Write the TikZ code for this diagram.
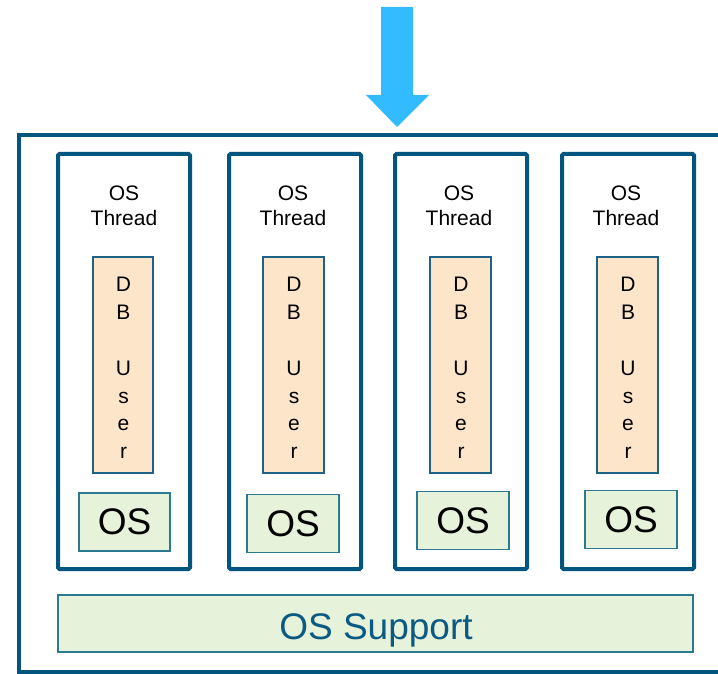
\documentclass[tikz,border=0pt]{standalone}
\usepackage{fontspec}
\setmainfont{Liberation Sans}
\definecolor{frame}{RGB}{2,85,127}
\definecolor{peach}{RGB}{253,229,201}
\definecolor{peachline}{RGB}{31,98,136}
\definecolor{greenfill}{RGB}{230,242,217}
\definecolor{greenline}{RGB}{44,122,146}
\definecolor{arrowblue}{RGB}{51,187,255}
\definecolor{supporttext}{RGB}{11,90,132}
\tikzset{
  threadbox/.style={draw=frame, line width=4pt, rounded corners=1.5pt, minimum width=132pt, minimum height=415pt, inner sep=0pt},
  userbox/.style={draw=peachline, fill=peach, line width=1.3pt, minimum width=60pt, minimum height=216pt, inner sep=0pt},
  usertext/.style={align=center, inner sep=0pt, font=\fontsize{21}{27.8}\selectfont},
  osbox/.style={draw=greenline, fill=greenfill, line width=1.3pt, minimum width=91pt, minimum height=58pt, inner sep=0pt, font=\fontsize{37}{40}\selectfont},
  threadlabel/.style={align=center, inner sep=0pt, font=\fontsize{21}{25}\selectfont},
  supportbox/.style={draw=greenline, fill=greenfill, line width=1.3pt, minimum width=635pt, minimum height=57pt, inner sep=0pt},
  supporttextstyle/.style={inner sep=0pt, text=supporttext, font=\fontsize{37}{40}\selectfont}
}
\begin{document}
\begin{tikzpicture}[x=1pt,y=1pt]
\useasboundingbox (0,0) rectangle (718,-674);
\begin{scope}
\clip (0,0) rectangle (718,-674);
% outer frame (right side runs off the picture)
\draw[frame, line width=4pt] (730,-135) -- (19,-135) -- (19,-672) -- (730,-672);
\end{scope}
% incoming arrow
\fill[arrowblue] (381,-7) -- (413,-7) -- (413,-95) -- (429,-95) -- (397,-127) -- (366,-95) -- (381,-95) -- cycle;
% thread boxes
\node[threadbox] (t1) at (124,-361.5) {};
\node[threadbox] (t2) at (295,-361.5) {};
\node[threadbox] (t3) at (461,-361.5) {};
\node[threadbox] (t4) at (628,-361.5) {};
% labels
\node[threadlabel] (l1) at (124,-205.5) {OS\\Thread};
\node[threadlabel] (l2) at (293,-205.5) {OS\\Thread};
\node[threadlabel] (l3) at (459,-205.5) {OS\\Thread};
\node[threadlabel] (l4) at (626,-205.5) {OS\\Thread};
% DB user boxes
\node[userbox] (u1) at (123,-365) {};
\node[userbox, minimum width=61pt] (u2) at (293.5,-365) {};
\node[userbox, minimum width=61pt] (u3) at (460.5,-365) {};
\node[userbox, minimum width=61pt] (u4) at (627.5,-365) {};
\node[usertext] (ut1) at (123.5,-368) {D\\B\\~\\U\\s\\e\\r};
\node[usertext] (ut2) at (294,-368) {D\\B\\~\\U\\s\\e\\r};
\node[usertext] (ut3) at (461,-368) {D\\B\\~\\U\\s\\e\\r};
\node[usertext] (ut4) at (628,-368) {D\\B\\~\\U\\s\\e\\r};
% OS boxes
\node[osbox] (o1) at (124.5,-522) {OS};
\node[osbox, minimum width=92pt] (o2) at (293,-523.5) {OS};
\node[osbox, minimum width=92pt] (o3) at (463,-520.5) {OS};
\node[osbox, minimum width=92pt] (o4) at (631,-519.5) {OS};
% OS support
\node[supportbox] (sup) at (375.5,-623.5) {};
\node[supporttextstyle] (supt) at (376,-630) {OS Support};
\end{tikzpicture}
\end{document}
